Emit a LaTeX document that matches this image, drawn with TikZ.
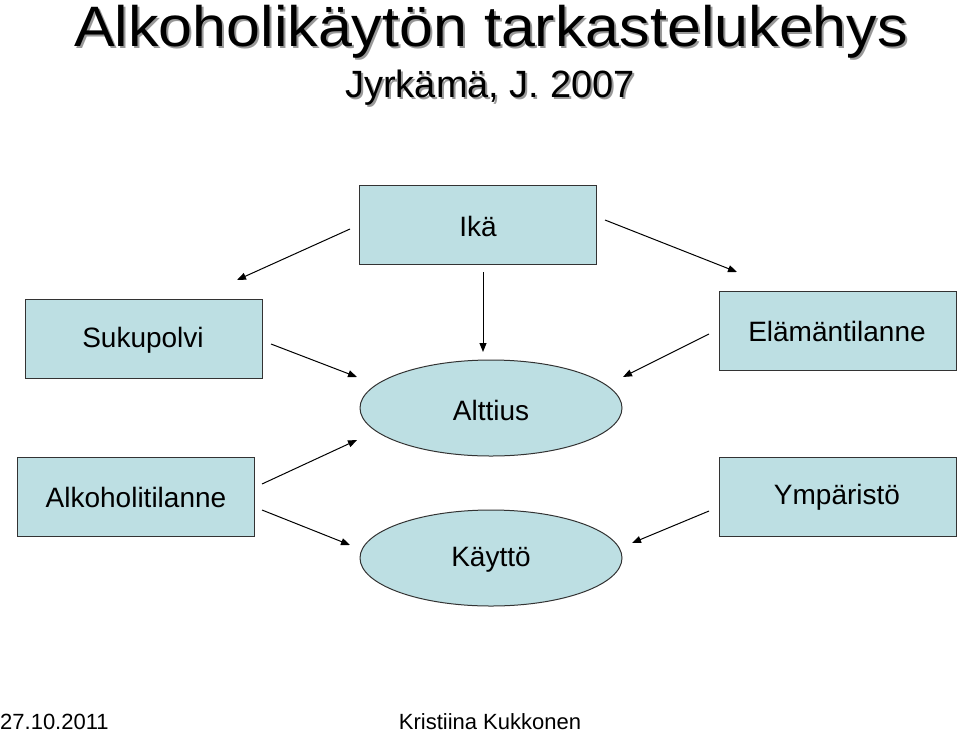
\documentclass[tikz,border=0pt]{standalone}
\usepackage{fontspec}
\setmainfont{Liberation Sans}
\usetikzlibrary{arrows.meta}
\definecolor{boxfill}{HTML}{BDDFE3}
\tikzset{
  x=1pt,y=-1pt,
  box/.style={draw=black!80,line width=1pt,fill=boxfill},
  oval/.style={draw=black!80,line width=1pt,fill=boxfill},
  lbl/.style={font=\fontsize{28}{32}\selectfont},
  arr/.style={line width=1pt,-{Triangle[length=9pt,width=7pt]}},
  ttl/.style={font=\fontsize{57}{62}\selectfont,anchor=base,inner sep=0pt},
  sub/.style={font=\fontsize{38}{42}\selectfont,anchor=base,inner sep=0pt},
  foot/.style={font=\fontsize{22}{24}\selectfont}
}
\begin{document}
\begin{tikzpicture}
\useasboundingbox (0,0) rectangle (960,734);
% title with shadow
\node[ttl,text=black!40] at (493,48) {\scalebox{1.07}[1]{Alkoholikäytön tarkastelukehys}};
\node[ttl] (title) at (491,46) {\scalebox{1.07}[1]{Alkoholikäytön tarkastelukehys}};
\node[sub,text=black!40] at (492,99) {Jyrkämä, J. 2007};
\node[sub] (subt) at (490,97) {Jyrkämä, J. 2007};
% boxes
\draw[box] (359,185) rectangle (596,264); \node[lbl] (ika) at (478,226) {Ikä};
\draw[box] (25,299) rectangle (262,378); \node[lbl] (suku) at (143,340) {Sukupolvi};
\draw[box] (719,291) rectangle (956,370); \node[lbl] (elam) at (837,331) {Elämäntilanne};
\draw[box] (17,457) rectangle (254,536); \node[lbl] (alko) at (136,497) {Alkoholitilanne};
\draw[box] (719,457) rectangle (956,536); \node[lbl] (ymp) at (837,497) {Ympäristö};
\draw[oval] (491,408) ellipse [x radius=131,y radius=48]; \node[lbl] (alt) at (491,410) {Alttius};
\draw[oval] (491,558) ellipse [x radius=131,y radius=48]; \node[lbl] (kay) at (491,560) {Käyttö};
% arrows
\coordinate (a1) at (350,229); \coordinate (b1) at (237,280);
\coordinate (a2) at (605,220); \coordinate (b2) at (737,272);
\coordinate (a3) at (483,272); \coordinate (b3) at (483,352);
\coordinate (a4) at (271,344); \coordinate (b4) at (357,377);
\coordinate (a5) at (709,334); \coordinate (b5) at (623,377);
\coordinate (a6) at (262,484); \coordinate (b6) at (357,440);
\coordinate (a7) at (262,510); \coordinate (b7) at (350,545);
\coordinate (a8) at (709,511); \coordinate (b8) at (632,543);
\foreach \i in {1,...,8} \draw[arr] (a\i) -- (b\i);
% footer
\node[foot,anchor=west,inner sep=0pt] (date) at (0,722) {27.10.2011};
\node[foot] (auth) at (490,722) {Kristiina Kukkonen};
\end{tikzpicture}
\end{document}
